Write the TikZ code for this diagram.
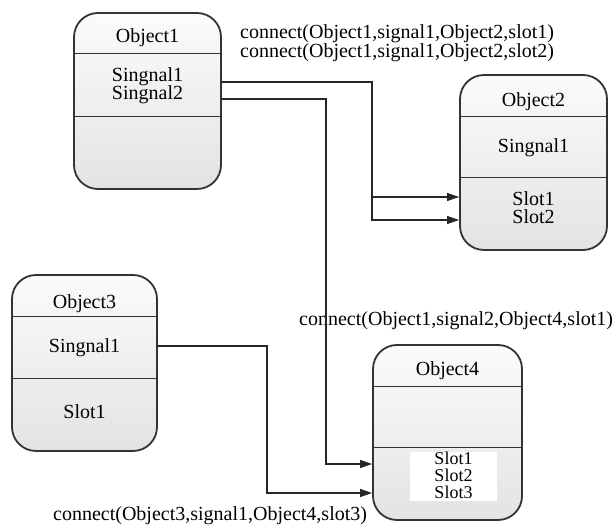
\documentclass[tikz,border=0pt]{standalone}
\usepackage{fontspec}
\setmainfont{Liberation Serif}
\usetikzlibrary{arrows.meta}
\begin{document}
\begin{tikzpicture}[x=1pt,y=-1pt,
  obj/.style={draw=black!80, line width=1.8pt, rounded corners=24pt,
    top color=gray!3, bottom color=gray!22, inner sep=0pt},
  div/.style={draw=black!80, line width=1pt},
  lbl/.style={anchor=base, inner sep=0pt, align=center, font=\fontsize{20}{18.5}\selectfont},
  lbls/.style={lbl, font=\fontsize{18}{17}\selectfont},
  ctext/.style={anchor=base west, inner sep=0pt, align=left, font=\fontsize{20}{17}\selectfont},
  conn/.style={draw=black!85, line width=1.1pt},
  arr/.style={conn, -{Triangle[length=12pt,width=8pt]}}]
\useasboundingbox (0,0) rectangle (614,526);
% Object1
\node[obj, minimum width=147pt, minimum height=176pt] (o1) at (147.5,101) {};
\draw[div] (o1.west |- 0,54) -- (o1.east |- 0,54);
\draw[div] (o1.west |- 0,117) -- (o1.east |- 0,117);
\node[lbl] (o1t) at (147.5,43) {Object1};
\node[lbl] (o1s) at (147.5,100) {Singnal1\\Singnal2};
% Object2
\node[obj, minimum width=147pt, minimum height=175pt] (o2) at (533.5,162.5) {};
\draw[div] (o2.west |- 0,117) -- (o2.east |- 0,117);
\draw[div] (o2.west |- 0,178) -- (o2.east |- 0,178);
\node[lbl] (o2t) at (533.5,107) {Object2};
\node[lbl] (o2s1) at (533.5,153) {Singnal1};
\node[lbl] (o2l) at (533.5,224) {Slot1\\Slot2};
% Object3
\node[obj, minimum width=145pt, minimum height=176pt] (o3) at (84.5,363) {};
\draw[div] (o3.west |- 0,317) -- (o3.east |- 0,317);
\draw[div] (o3.west |- 0,379) -- (o3.east |- 0,379);
\node[lbl] (o3t) at (84.5,309) {Object3};
\node[lbl] (o3s1) at (84.5,353) {Singnal1};
\node[lbl] (o3l1) at (84.5,419) {Slot1};
% Object4
\node[obj, minimum width=149pt, minimum height=175pt] (o4) at (447.5,432.5) {};
\draw[div] (o4.west |- 0,387) -- (o4.east |- 0,387);
\draw[div] (o4.west |- 0,448) -- (o4.east |- 0,448);
\node[lbl] (o4t) at (447.5,376) {Object4};
\node[fill=white, inner sep=0pt, minimum width=87pt, minimum height=49pt] (o4box) at (453.5,476.5) {};
\node[lbls] (o4l) at (453.5,499) {Slot1\\Slot2\\Slot3};
% texts
\node[ctext] (c12) at (240,58) {connect(Object1,signal1,Object2,slot1)\\connect(Object1,signal1,Object2,slot2)};
\node[ctext] (c3) at (299,326) {connect(Object1,signal2,Object4,slot1)};
\node[ctext] (c4) at (53,521) {connect(Object3,signal1,Object4,slot3)};
% connectors
\coordinate (j1a) at (372,82);
\coordinate (j1b) at (372,197);
\coordinate (j1c) at (372,220);
\draw[arr] (o1.east |- j1a) -- (j1a) -- (j1c) -- (o2.west |- j1c);
\draw[arr] (j1b) -- (o2.west |- j1b);
\coordinate (j2a) at (326,99);
\coordinate (j2b) at (326,464);
\draw[arr] (o1.east |- j2a) -- (j2a) -- (j2b) -- (o4.west |- j2b);
\coordinate (j3a) at (267,346);
\coordinate (j3b) at (267,493);
\draw[arr] (o3.east |- j3a) -- (j3a) -- (j3b) -- (o4.west |- j3b);
\end{tikzpicture}
\end{document}
